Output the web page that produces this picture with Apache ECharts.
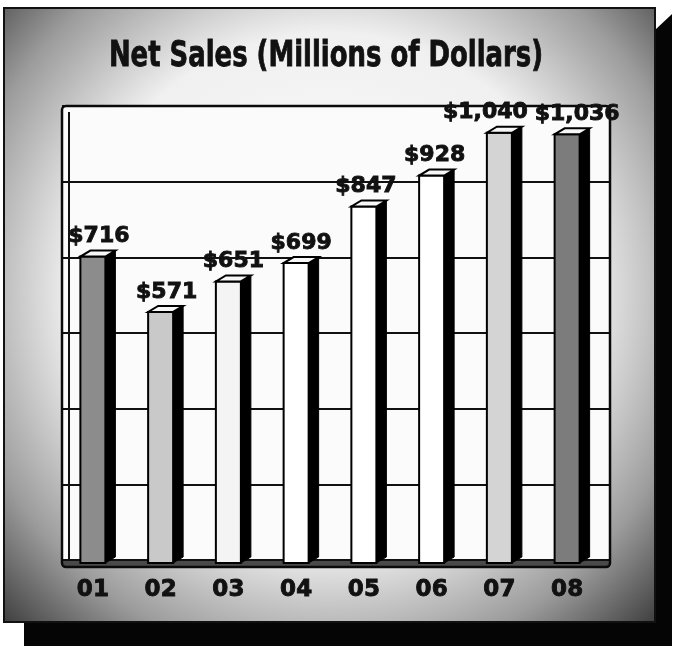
<!DOCTYPE html>
<html>
<head>
<meta charset="utf-8">
<script src="https://cdn.jsdelivr.net/npm/echarts@6/dist/echarts.min.js"></script>
<style>
  html, body { margin: 0; padding: 0; background: #ffffff; }
  #chart { width: 675px; height: 650px; }
</style>
</head>
<body>
<div id="chart"></div>
<script>
// ---- data ----
const years = ['01', '02', '03', '04', '05', '06', '07', '08'];
const netSales = [716, 571, 651, 699, 847, 928, 1040, 1036];
const wallTicks = [0, 200, 400, 600, 800, 1000, 1200];
const chartTitle = 'Net Sales (Millions of Dollars)';

// ---- styles ----
const barFaceFills = ['#8c8c8c', '#c9c9c9', '#f4f4f4', '#ffffff', '#ffffff', '#ffffff', '#d4d4d4', '#7c7c7c'];
const labelShiftX = [6, 6, 5, 5, 2, 3, -14, 10];
const valueFont = 'DejaVu Sans';

function money(v) { return '$' + v.toLocaleString('en-US'); }

const chart = echarts.init(document.getElementById('chart'), null, { renderer: 'canvas' });

function renderBar(params, api) {
  const idx = api.value(0);
  const val = api.value(1);
  const top = api.coord([idx, val]);
  const cs = params.coordSys;
  const bottom = cs.y + cs.height + 3;
  const cx = top[0], ty = top[1];
  const fw = 25, dx = 10, dy = 6;
  const L = cx - fw / 2, R = cx + fw / 2;
  return {
    type: 'group',
    children: [
      { type: 'polygon', shape: { points: [[R, ty], [R + dx, ty - dy], [R + dx, bottom - dy], [R, bottom]] },
        style: { fill: '#000', stroke: '#000', lineWidth: 1 } },
      { type: 'rect', shape: { x: L, y: ty, width: fw, height: bottom - ty },
        style: { fill: barFaceFills[idx], stroke: '#000', lineWidth: 2 } },
      { type: 'polygon', shape: { points: [[L, ty], [R, ty], [R + dx, ty - dy], [L + dx, ty - dy]] },
        style: { fill: '#f7f7f7', stroke: '#000', lineWidth: 2 } },
      { type: 'text', x: cx + labelShiftX[idx], y: ty - 9,
        style: { text: money(val), fill: '#111', font: 'bold 22px "' + valueFont + '"',
                 stroke: '#111', lineWidth: 0.9,
                 textAlign: 'center', textVerticalAlign: 'bottom' } }
    ]
  };
}

const option = {
  backgroundColor: '#ffffff',
  animation: false,
  graphic: [
    // drop shadow of the frame
    { type: 'polygon', z: -3, shape: { points: [[655, 30], [672, 14], [672, 646], [24, 646], [24, 622], [655, 622]] },
      style: { fill: '#050505' } },
    // outer frame with mottled tone
    { type: 'rect', z: -2, shape: { x: 4, y: 8, width: 651, height: 614 },
      style: {
        fill: {
          type: 'radial', x: 0.5, y: 0.46, r: 0.76,
          colorStops: [
            { offset: 0, color: '#ffffff' },
            { offset: 0.55, color: '#f0f0f0' },
            { offset: 0.8, color: '#9c9c9c' },
            { offset: 1, color: '#3c3c3c' }
          ]
        },
        stroke: '#111', lineWidth: 2
      } },
    // back wall
    { type: 'rect', z: -1, shape: { x: 62, y: 106, width: 548, height: 461, r: 4 },
      style: { fill: '#fbfbfb' } },
    // floor strip
    { type: 'rect', z: 1, shape: { x: 62, y: 559, width: 548, height: 8 },
      style: { fill: '#4a4a4a' } },
    // left wall inner edge
    { type: 'line', z: 2, shape: { x1: 69, y1: 112, x2: 69, y2: 560 },
      style: { stroke: '#111', lineWidth: 2 } },
    // panel border
    { type: 'rect', z: 2, shape: { x: 62, y: 106, width: 548, height: 461, r: 4 },
      style: { fill: 'none', stroke: '#0a0a0a', lineWidth: 2.5 } },
    // title
    { type: 'text', z: 6, x: 326, y: 57, scaleX: 0.8,
      style: { text: chartTitle, fill: '#111', font: 'bold 36px "DejaVu Sans Condensed", "DejaVu Sans", sans-serif',
               stroke: '#111', lineWidth: 0.8,
               textAlign: 'center', textVerticalAlign: 'middle' } }
  ],
  grid: [
    { left: 62, right: 65, top: 106, bottom: 90 },
    { left: 59, right: 74, top: 106, bottom: 90 }
  ],
  xAxis: [
    { gridIndex: 0, type: 'value', min: 0, max: 1, show: false },
    { gridIndex: 1, type: 'category', data: years, boundaryGap: true,
      axisLine: { show: false }, axisTick: { show: false }, splitLine: { show: false },
      axisLabel: { margin: 30, verticalAlign: 'middle', color: '#111',
                   textBorderColor: '#111', textBorderWidth: 0.9,
                   fontFamily: valueFont, fontWeight: 'bold', fontSize: 23 } }
  ],
  yAxis: [
    { gridIndex: 0, type: 'value', min: wallTicks[0], max: wallTicks[wallTicks.length - 1], interval: 200,
      axisLine: { show: false }, axisTick: { show: false }, axisLabel: { show: false },
      splitLine: { show: true, lineStyle: { color: '#111', width: 2 } }, z: 1 },
    { gridIndex: 1, type: 'value', min: -78, max: 1110, show: false,
      splitLine: { show: false } }
  ],
  series: [
    { type: 'custom', xAxisIndex: 1, yAxisIndex: 1, z: 3,
      renderItem: renderBar,
      data: netSales.map((v, i) => [i, v]),
      encode: { x: 0, y: 1 } }
  ]
};
chart.setOption(option);
</script>
</body>
</html>
